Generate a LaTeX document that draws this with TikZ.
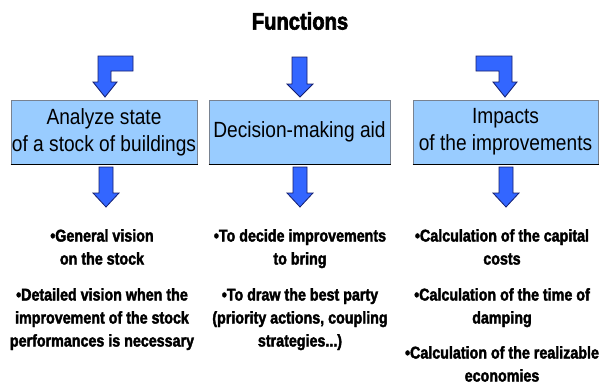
\documentclass[tikz,border=0pt]{standalone}
\usepackage{fontspec}
\setmainfont{Liberation Sans}
\newfontfamily\nar[FakeStretch=0.87]{Liberation Sans}
\newfontfamily\titfont[FakeStretch=0.84,FakeBold=2.5]{Liberation Sans}
\newfontfamily\bulfont[FakeStretch=0.84,FakeBold=2.2]{Liberation Sans}
\definecolor{boxfill}{RGB}{153,204,255}
\definecolor{boxedge}{RGB}{120,130,145}
\definecolor{arrblue}{RGB}{51,102,255}
\definecolor{arredge}{RGB}{20,30,110}
\begin{document}
\begin{tikzpicture}[x=1pt,y=-1pt,
  funcbox/.style={draw=boxedge,line width=1pt,fill=boxfill,minimum width=#1,minimum height=64pt,inner sep=0pt,align=center,
    font=\nar\fontsize{22}{27}\selectfont},
  arrowshape/.style={fill=arrblue,draw=arredge,line width=0.8pt,line join=miter},
  bullets/.style={align=center,inner sep=0pt,anchor=north,font=\bulfont\bfseries\fontsize{17}{23}\selectfont},
  titlestyle/.style={font=\titfont\bfseries\fontsize{24}{28}\selectfont,inner sep=0pt}]
\useasboundingbox (0,0) rectangle (600,386);
\fill[white] (0,0) rectangle (600,386);

\node[titlestyle] (title) at (300,21) {Functions};

% boxes
\node[funcbox=186pt] (b1) at (104,132) {Analyze state\\of a stock of buildings};
\node[funcbox=181pt] (b2) at (299.5,132) {Decision-making aid};
\node[funcbox=185pt] (b3) at (505.5,132) {Impacts\\of the improvements};
\foreach \b in {b1,b2,b3}{
  \draw[black,line width=1.4pt] (\b.south west) -- (\b.south east);
}

% top arrows
\draw[arrowshape] (133,56) -- (98,56) -- (98,82) -- (93,82) -- (105,97) -- (117,82) -- (111,82) -- (111,71) -- (133,71) -- cycle;
\draw[arrowshape] (292,57) -- (307,57) -- (307,84) -- (313,84) -- (300,97) -- (287,84) -- (292,84) -- cycle;
\draw[arrowshape] (476,56) -- (512,56) -- (512,82) -- (517,82) -- (505,97) -- (493,82) -- (499,82) -- (499,71) -- (476,71) -- cycle;

% lower arrows
\foreach \cx in {106,300,506}{
  \draw[arrowshape] (\cx-7,167) -- (\cx+7,167) -- (\cx+7,193) -- (\cx+13,193) -- (\cx,207) -- (\cx-13,193) -- (\cx-7,193) -- cycle;
}

% bullet texts
\node[bullets] (c1a) at (102,229) {•General vision\\on the stock};
\node[bullets] (c1b) at (102,288) {•Detailed vision when the\\improvement of the stock\\performances is necessary};
\node[bullets] (c2a) at (300,229) {•To decide improvements\\to bring};
\node[bullets] (c2b) at (300,288) {•To draw the best party\\(priority actions, coupling\\strategies...)};
\node[bullets] (c3a) at (502,229) {•Calculation of the capital\\costs};
\node[bullets] (c3b) at (502,288) {•Calculation of the time of\\damping};
\node[bullets] (c3c) at (502,346) {•Calculation of the realizable\\economies};
\end{tikzpicture}
\end{document}
